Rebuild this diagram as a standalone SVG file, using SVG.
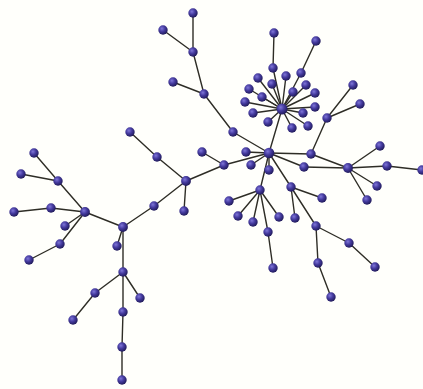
<svg xmlns="http://www.w3.org/2000/svg" width="423" height="389" viewBox="0 0 423 389">
<defs>
<radialGradient id="ball" cx="0.38" cy="0.35" r="0.65">
<stop offset="0" stop-color="#7f76d8"/>
<stop offset="0.5" stop-color="#443a9e"/>
<stop offset="1" stop-color="#221c5c"/>
</radialGradient>
<style>
.n circle{fill:url(#ball);}
#edges line{stroke:#2e2d26;stroke-width:1.4;stroke-linecap:round;}
</style>
</defs>
<rect width="423" height="389" fill="#fffffb"/>
<g id="edges">
<line x1="193" y1="13" x2="193" y2="52"/>
<line x1="163" y1="30" x2="193" y2="52"/>
<line x1="193" y1="52" x2="204" y2="94"/>
<line x1="173" y1="82" x2="204" y2="94"/>
<line x1="204" y1="94" x2="233" y2="132"/>
<line x1="233" y1="132" x2="269" y2="153"/>
<line x1="269" y1="153" x2="246" y2="152"/>
<line x1="269" y1="153" x2="251" y2="165"/>
<line x1="269" y1="153" x2="224" y2="165"/>
<line x1="224" y1="165" x2="202" y2="152"/>
<line x1="224" y1="165" x2="186" y2="181"/>
<line x1="186" y1="181" x2="157" y2="157"/>
<line x1="157" y1="157" x2="130" y2="132"/>
<line x1="186" y1="181" x2="184" y2="211"/>
<line x1="186" y1="181" x2="154" y2="206"/>
<line x1="154" y1="206" x2="123" y2="227"/>
<line x1="123" y1="227" x2="117" y2="246"/>
<line x1="123" y1="227" x2="85" y2="212"/>
<line x1="85" y1="212" x2="58" y2="181"/>
<line x1="58" y1="181" x2="34" y2="153"/>
<line x1="58" y1="181" x2="21" y2="174"/>
<line x1="85" y1="212" x2="51" y2="208"/>
<line x1="51" y1="208" x2="14" y2="212"/>
<line x1="85" y1="212" x2="65" y2="226"/>
<line x1="85" y1="212" x2="60" y2="244"/>
<line x1="60" y1="244" x2="29" y2="260"/>
<line x1="123" y1="227" x2="123" y2="272"/>
<line x1="123" y1="272" x2="95" y2="293"/>
<line x1="95" y1="293" x2="73" y2="320"/>
<line x1="123" y1="272" x2="140" y2="298"/>
<line x1="123" y1="272" x2="123" y2="312"/>
<line x1="123" y1="312" x2="122" y2="347"/>
<line x1="122" y1="347" x2="122" y2="380"/>
<line x1="269" y1="153" x2="282" y2="109"/>
<line x1="282" y1="109" x2="273" y2="68"/>
<line x1="273" y1="68" x2="274" y2="33"/>
<line x1="282" y1="109" x2="301" y2="73"/>
<line x1="301" y1="73" x2="316" y2="41"/>
<line x1="282" y1="109" x2="258" y2="78"/>
<line x1="282" y1="109" x2="286" y2="76"/>
<line x1="282" y1="109" x2="272" y2="84"/>
<line x1="282" y1="109" x2="249" y2="89"/>
<line x1="282" y1="109" x2="306" y2="85"/>
<line x1="282" y1="109" x2="293" y2="92"/>
<line x1="282" y1="109" x2="315" y2="93"/>
<line x1="282" y1="109" x2="262" y2="97"/>
<line x1="282" y1="109" x2="245" y2="102"/>
<line x1="282" y1="109" x2="315" y2="107"/>
<line x1="282" y1="109" x2="253" y2="113"/>
<line x1="282" y1="109" x2="303" y2="113"/>
<line x1="282" y1="109" x2="268" y2="122"/>
<line x1="282" y1="109" x2="292" y2="128"/>
<line x1="282" y1="109" x2="308" y2="126"/>
<line x1="269" y1="153" x2="269" y2="170"/>
<line x1="269" y1="153" x2="260" y2="190"/>
<line x1="260" y1="190" x2="229" y2="201"/>
<line x1="260" y1="190" x2="238" y2="216"/>
<line x1="260" y1="190" x2="253" y2="222"/>
<line x1="260" y1="190" x2="279" y2="217"/>
<line x1="260" y1="190" x2="268" y2="232"/>
<line x1="268" y1="232" x2="273" y2="268"/>
<line x1="269" y1="153" x2="291" y2="187"/>
<line x1="291" y1="187" x2="295" y2="218"/>
<line x1="291" y1="187" x2="316" y2="226"/>
<line x1="316" y1="226" x2="349" y2="243"/>
<line x1="349" y1="243" x2="375" y2="267"/>
<line x1="316" y1="226" x2="318" y2="263"/>
<line x1="318" y1="263" x2="331" y2="297"/>
<line x1="291" y1="187" x2="322" y2="198"/>
<line x1="269" y1="153" x2="304" y2="167"/>
<line x1="269" y1="153" x2="311" y2="154"/>
<line x1="311" y1="154" x2="327" y2="118"/>
<line x1="327" y1="118" x2="353" y2="85"/>
<line x1="327" y1="118" x2="360" y2="104"/>
<line x1="311" y1="154" x2="348" y2="168"/>
<line x1="304" y1="167" x2="348" y2="168"/>
<line x1="348" y1="168" x2="380" y2="146"/>
<line x1="348" y1="168" x2="387" y2="166"/>
<line x1="387" y1="166" x2="422" y2="170"/>
<line x1="348" y1="168" x2="377" y2="186"/>
<line x1="348" y1="168" x2="367" y2="200"/>
</g>
<g id="n1" class="n"><circle cx="193" cy="13" r="4.7"/></g>
<g id="n2" class="n"><circle cx="163" cy="30" r="4.7"/></g>
<g id="n3" class="n"><circle cx="193" cy="52" r="4.7"/></g>
<g id="n4" class="n"><circle cx="173" cy="82" r="4.7"/></g>
<g id="n5" class="n"><circle cx="204" cy="94" r="4.7"/></g>
<g id="n6" class="n"><circle cx="233" cy="132" r="4.7"/></g>
<g id="hub" class="n"><circle cx="269" cy="153" r="5.3"/></g>
<g id="n7" class="n"><circle cx="246" cy="152" r="4.7"/></g>
<g id="n8" class="n"><circle cx="251" cy="165" r="4.7"/></g>
<g id="n9" class="n"><circle cx="224" cy="165" r="4.7"/></g>
<g id="n10" class="n"><circle cx="202" cy="152" r="4.7"/></g>
<g id="n11" class="n"><circle cx="186" cy="181" r="4.9"/></g>
<g id="n12" class="n"><circle cx="157" cy="157" r="4.7"/></g>
<g id="n13" class="n"><circle cx="130" cy="132" r="4.7"/></g>
<g id="n14" class="n"><circle cx="184" cy="211" r="4.7"/></g>
<g id="n15" class="n"><circle cx="154" cy="206" r="4.7"/></g>
<g id="n16" class="n"><circle cx="123" cy="227" r="4.9"/></g>
<g id="n17" class="n"><circle cx="117" cy="246" r="4.7"/></g>
<g id="n18" class="n"><circle cx="85" cy="212" r="4.9"/></g>
<g id="n19" class="n"><circle cx="58" cy="181" r="4.7"/></g>
<g id="n20" class="n"><circle cx="34" cy="153" r="4.7"/></g>
<g id="n21" class="n"><circle cx="21" cy="174" r="4.7"/></g>
<g id="n22" class="n"><circle cx="51" cy="208" r="4.7"/></g>
<g id="n23" class="n"><circle cx="14" cy="212" r="4.7"/></g>
<g id="n24" class="n"><circle cx="65" cy="226" r="4.7"/></g>
<g id="n25" class="n"><circle cx="60" cy="244" r="4.7"/></g>
<g id="n26" class="n"><circle cx="29" cy="260" r="4.7"/></g>
<g id="n27" class="n"><circle cx="123" cy="272" r="4.7"/></g>
<g id="n28" class="n"><circle cx="95" cy="293" r="4.7"/></g>
<g id="n29" class="n"><circle cx="73" cy="320" r="4.7"/></g>
<g id="n30" class="n"><circle cx="140" cy="298" r="4.7"/></g>
<g id="n31" class="n"><circle cx="123" cy="312" r="4.7"/></g>
<g id="n32" class="n"><circle cx="122" cy="347" r="4.7"/></g>
<g id="n33" class="n"><circle cx="122" cy="380" r="4.7"/></g>
<g id="star" class="n"><circle cx="282" cy="109" r="5.5"/></g>
<g id="s1" class="n"><circle cx="273" cy="68" r="4.7"/></g>
<g id="s2" class="n"><circle cx="274" cy="33" r="4.7"/></g>
<g id="s3" class="n"><circle cx="301" cy="73" r="4.7"/></g>
<g id="s4" class="n"><circle cx="316" cy="41" r="4.7"/></g>
<g id="s5" class="n"><circle cx="258" cy="78" r="4.7"/></g>
<g id="s6" class="n"><circle cx="286" cy="76" r="4.7"/></g>
<g id="s7" class="n"><circle cx="272" cy="84" r="4.7"/></g>
<g id="s8" class="n"><circle cx="249" cy="89" r="4.7"/></g>
<g id="s9" class="n"><circle cx="306" cy="85" r="4.7"/></g>
<g id="s10" class="n"><circle cx="293" cy="92" r="4.7"/></g>
<g id="s11" class="n"><circle cx="315" cy="93" r="4.7"/></g>
<g id="s12" class="n"><circle cx="262" cy="97" r="4.7"/></g>
<g id="s13" class="n"><circle cx="245" cy="102" r="4.7"/></g>
<g id="s14" class="n"><circle cx="315" cy="107" r="4.7"/></g>
<g id="s15" class="n"><circle cx="253" cy="113" r="4.7"/></g>
<g id="s16" class="n"><circle cx="303" cy="113" r="4.7"/></g>
<g id="s17" class="n"><circle cx="268" cy="122" r="4.7"/></g>
<g id="s18" class="n"><circle cx="292" cy="128" r="4.7"/></g>
<g id="s19" class="n"><circle cx="308" cy="126" r="4.7"/></g>
<g id="m1" class="n"><circle cx="269" cy="170" r="4.7"/></g>
<g id="m2" class="n"><circle cx="260" cy="190" r="4.7"/></g>
<g id="m3" class="n"><circle cx="229" cy="201" r="4.7"/></g>
<g id="m4" class="n"><circle cx="238" cy="216" r="4.7"/></g>
<g id="m5" class="n"><circle cx="253" cy="222" r="4.7"/></g>
<g id="m6" class="n"><circle cx="279" cy="217" r="4.7"/></g>
<g id="m7" class="n"><circle cx="268" cy="232" r="4.7"/></g>
<g id="m8" class="n"><circle cx="273" cy="268" r="4.7"/></g>
<g id="m9" class="n"><circle cx="291" cy="187" r="4.7"/></g>
<g id="m10" class="n"><circle cx="295" cy="218" r="4.7"/></g>
<g id="m11" class="n"><circle cx="316" cy="226" r="4.7"/></g>
<g id="m12" class="n"><circle cx="349" cy="243" r="4.7"/></g>
<g id="m13" class="n"><circle cx="375" cy="267" r="4.7"/></g>
<g id="m14" class="n"><circle cx="318" cy="263" r="4.7"/></g>
<g id="m15" class="n"><circle cx="331" cy="297" r="4.7"/></g>
<g id="m16" class="n"><circle cx="322" cy="198" r="4.7"/></g>
<g id="r1" class="n"><circle cx="304" cy="167" r="4.7"/></g>
<g id="r2" class="n"><circle cx="311" cy="154" r="4.7"/></g>
<g id="r3" class="n"><circle cx="327" cy="118" r="4.7"/></g>
<g id="r4" class="n"><circle cx="353" cy="85" r="4.7"/></g>
<g id="r5" class="n"><circle cx="360" cy="104" r="4.7"/></g>
<g id="r6" class="n"><circle cx="348" cy="168" r="4.9"/></g>
<g id="r7" class="n"><circle cx="380" cy="146" r="4.7"/></g>
<g id="r8" class="n"><circle cx="387" cy="166" r="4.7"/></g>
<g id="r9" class="n"><circle cx="422" cy="170" r="4.7"/></g>
<g id="r10" class="n"><circle cx="377" cy="186" r="4.7"/></g>
<g id="r11" class="n"><circle cx="367" cy="200" r="4.7"/></g>
</svg>
